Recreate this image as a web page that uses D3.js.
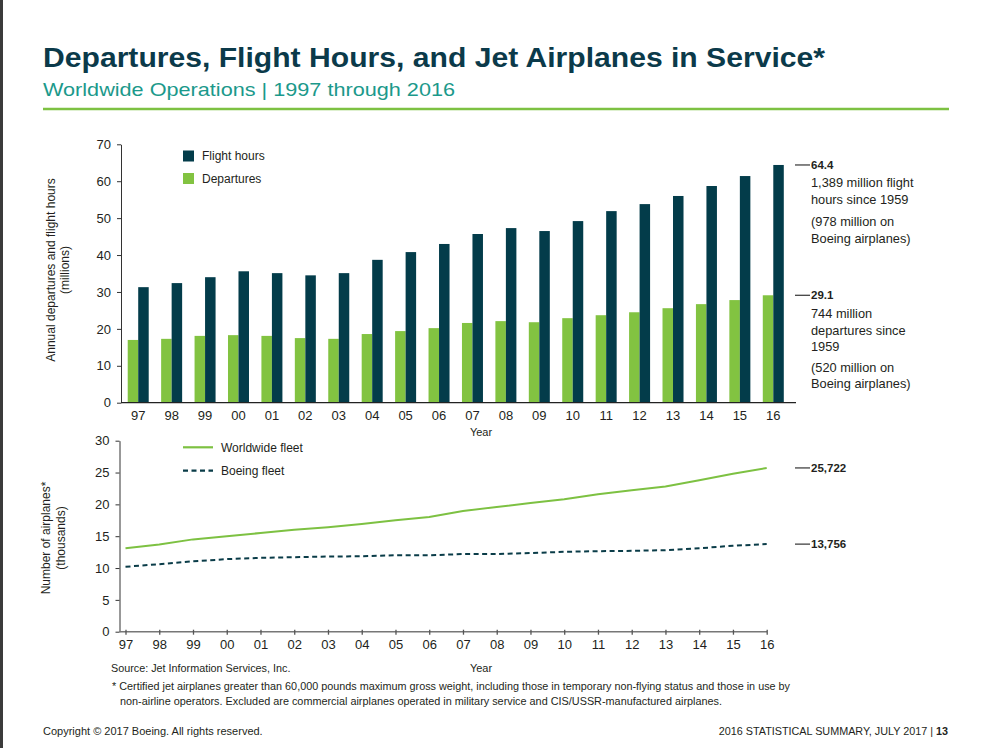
<!DOCTYPE html>
<html><head><meta charset="utf-8">
<script src="https://cdn.jsdelivr.net/npm/d3@7"></script>
<style>
body{margin:0;background:#fff}
svg{display:block}
text{font-family:"Liberation Sans",Arial,Helvetica,sans-serif}
</style>
</head><body>
<svg id="c" width="992" height="748"></svg>
<script>
// ---------- DATA ----------
const years = ["97","98","99","00","01","02","03","04","05","06","07","08","09","10","11","12","13","14","15","16"];
const flightHours = [31.3,32.4,34.0,35.6,35.1,34.5,35.1,38.7,40.8,43.0,45.7,47.3,46.5,49.2,51.9,53.8,56.0,58.7,61.4,64.4];
const departures  = [17.0,17.3,18.1,18.3,18.1,17.5,17.3,18.6,19.4,20.2,21.6,22.1,21.8,22.9,23.7,24.5,25.6,26.7,27.8,29.1];
const worldwideFleet = [13.1,13.7,14.5,15.0,15.5,16.0,16.4,16.9,17.5,18.0,18.95,19.6,20.2,20.8,21.6,22.2,22.8,23.8,24.8,25.722];
const boeingFleet    = [10.2,10.6,11.05,11.4,11.6,11.7,11.8,11.85,12.0,12.0,12.2,12.2,12.35,12.55,12.65,12.7,12.8,13.1,13.5,13.756];
const topTicks = [0,10,20,30,40,50,60,70];
const bottomTicks = [0,5,10,15,20,25,30];
const barSeries = ["Departures","Flight hours"];
const lineSeries = ["Worldwide fleet","Boeing fleet"];
const fhNote = ["1,389 million flight","hours since 1959","","(978 million on","Boeing airplanes)"];
const depNote = ["744 million","departures since","1959","(520 million on","Boeing airplanes)"];
const titleText = "Departures, Flight Hours, and Jet Airplanes in Service*";
const subtitleText = "Worldwide Operations | 1997 through 2016";

// ---------- STYLE ----------
const DARK = "#033c4a", GREEN = "#82c341", TXT = "#231f20";
const svg = d3.select("#c");
svg.append("rect").attr("width",992).attr("height",748).attr("fill","#fff");
svg.append("rect").attr("x",0).attr("y",0).attr("width",3).attr("height",748).attr("fill","#3b3b3b");

// title
svg.append("text").attr("x",43).attr("y",67).attr("font-size",27.5).attr("font-weight","bold")
  .attr("textLength",782).attr("lengthAdjust","spacingAndGlyphs")
  .attr("fill","#0b3a4a").text(titleText);
svg.append("text").attr("x",43).attr("y",96).attr("font-size",19).attr("fill","#1b998b")
  .attr("textLength",412).attr("lengthAdjust","spacingAndGlyphs").text(subtitleText);
svg.append("line").attr("x1",43).attr("x2",949).attr("y1",109).attr("y2",109)
  .attr("stroke","#7dc142").attr("stroke-width",2.5);

// ---------- TOP CHART ----------
const xTop = d3.scaleBand().domain(years).range([121.5,790]);
const bw = xTop.bandwidth();
const xSub = d3.scaleBand().domain(barSeries).range([bw/2-10.5, bw/2+10.5]);
const yTop = d3.scaleLinear().domain([0,70]).range([402.7,144.3]);
const topG = svg.append("g");

const barData = years.map((y,i)=>({year:y, vals:[{k:"Departures",v:departures[i]},{k:"Flight hours",v:flightHours[i]}]}));
const color = d3.scaleOrdinal().domain(barSeries).range([GREEN, DARK]);
topG.selectAll("g.yr").data(barData).join("g").attr("class","yr")
  .attr("transform",d=>`translate(${xTop(d.year)},0)`)
  .selectAll("rect").data(d=>d.vals).join("rect")
  .attr("x",d=>xSub(d.k)).attr("width",xSub.bandwidth())
  .attr("y",d=>yTop(d.v)).attr("height",d=>yTop(0)-yTop(d.v))
  .attr("fill",d=>color(d.k));

const yAxT = topG.append("g").attr("transform","translate(121,0)")
  .call(d3.axisLeft(yTop).tickValues(topTicks).tickSize(4).tickSizeOuter(0).tickPadding(6));
yAxT.select(".domain").attr("stroke","#333");
yAxT.selectAll(".tick line").attr("stroke","#333");
yAxT.selectAll("text").attr("font-size",13).attr("fill",TXT).style("font-family",'"Liberation Sans",Arial,sans-serif');

const xAxT = topG.append("g").attr("transform",`translate(0,${yTop(0)})`)
  .call(d3.axisBottom(xTop).tickSize(0).tickPadding(8));
xAxT.select(".domain").remove();
xAxT.selectAll("text").attr("font-size",13).attr("fill",TXT).style("font-family",'"Liberation Sans",Arial,sans-serif');
topG.append("line").attr("x1",121).attr("x2",796).attr("y1",yTop(0)).attr("y2",yTop(0))
  .attr("stroke","#222").attr("stroke-width",1.3);
topG.append("text").attr("x",481).attr("y",436).attr("text-anchor","middle").attr("font-size",11).attr("fill",TXT).text("Year");

// y label
const ylT = topG.append("text").attr("transform","translate(55,270) rotate(-90)").attr("text-anchor","middle")
  .attr("font-size",12).attr("fill",TXT);
ylT.append("tspan").attr("x",0).attr("dy",0).text("Annual departures and flight hours");
ylT.append("tspan").attr("x",0).attr("dy",13.5).text("(millions)");

// legend
barSeries.slice().reverse().forEach((k,i)=>{
  const ly = 156 + i*22.5;
  topG.append("rect").attr("x",183).attr("y",ly-5.5).attr("width",11).attr("height",11).attr("fill",color(k));
  topG.append("text").attr("x",202).attr("y",ly).attr("dy","0.35em").attr("font-size",12).attr("fill",TXT).text(k);
});

// right annotations
function annot(g, yv, label, notes, gaps){
  g.append("line").attr("x1",795).attr("x2",810).attr("y1",yv).attr("y2",yv).attr("stroke","#333").attr("stroke-width",1.2);
  g.append("text").attr("x",811).attr("y",yv).attr("dy","0.35em").attr("font-size",11.5).attr("font-weight","bold").attr("fill",TXT).text(label);
  if(notes){
    let cy = yv + 18;
    notes.forEach((t,i)=>{
      if(t===""){ return; }
      g.append("text").attr("x",811).attr("y",cy).attr("dy","0.35em").attr("font-size",12.8).attr("fill",TXT).text(t);
      cy += gaps[i];
    });
  }
}
annot(topG, yTop(flightHours[19]), d3.format(".1f")(flightHours[19]), fhNote, [17,22,0,17,17]);
annot(topG, yTop(departures[19]), d3.format(".1f")(departures[19]), depNote, [17,16,21,16,16]);

// ---------- BOTTOM CHART ----------
const xBot = d3.scalePoint().domain(years).range([125.5,766.7]);
const yBot = d3.scaleLinear().domain([0,30]).range([631.7,440.7]);
const bot = svg.append("g");

const yAxB = bot.append("g").attr("transform","translate(119.5,0)")
  .call(d3.axisLeft(yBot).tickValues(bottomTicks).tickSize(4).tickSizeOuter(0).tickPadding(6));
yAxB.select(".domain").attr("stroke","#333");
yAxB.selectAll(".tick line").attr("stroke","#333");
yAxB.selectAll("text").attr("font-size",13).attr("fill",TXT).style("font-family",'"Liberation Sans",Arial,sans-serif');

bot.append("line").attr("x1",119.5).attr("x2",767).attr("y1",yBot(0)).attr("y2",yBot(0))
  .attr("stroke","#777").attr("stroke-width",1.6);
const xAxB = bot.append("g").attr("transform",`translate(0,${yBot(0)})`)
  .call(d3.axisBottom(xBot).tickSize(3).tickPadding(5));
xAxB.select(".domain").remove();
xAxB.selectAll(".tick line").attr("y1",-2).attr("stroke","#555").attr("stroke-width",1.3);
xAxB.selectAll("text").attr("font-size",13).attr("fill",TXT).style("font-family",'"Liberation Sans",Arial,sans-serif');

const line = d3.line().x((d,i)=>xBot(years[i])).y(d=>yBot(d));
bot.append("path").attr("d",line(worldwideFleet)).attr("fill","none").attr("stroke","#7dc142").attr("stroke-width",2);
bot.append("path").attr("d",line(boeingFleet)).attr("fill","none").attr("stroke","#0a3c48").attr("stroke-width",2)
  .attr("stroke-dasharray","5,3.5");

const ylB = bot.append("text").attr("transform","translate(50,538) rotate(-90)").attr("text-anchor","middle")
  .attr("font-size",12).attr("fill",TXT);
ylB.append("tspan").attr("x",0).attr("dy",0).text("Number of airplanes*");
ylB.append("tspan").attr("x",0).attr("dy",14.5).text("(thousands)");

lineSeries.forEach((k,i)=>{
  const ly = 447.3 + i*23.4;
  bot.append("line").attr("x1",183).attr("x2",213).attr("y1",ly).attr("y2",ly)
    .attr("stroke", i===0 ? "#7dc142" : "#0a3c48").attr("stroke-width",2.2)
    .attr("stroke-dasharray", i===0 ? null : "5,3.5");
  bot.append("text").attr("x",221).attr("y",ly).attr("dy","0.35em").attr("font-size",12).attr("fill",TXT).text(k);
});
const fmtK = v => d3.format(",")(Math.round(v*1000));
annot(bot, yBot(worldwideFleet[19]), fmtK(worldwideFleet[19]), null);
annot(bot, yBot(boeingFleet[19]), fmtK(boeingFleet[19]), null);

// ---------- FOOTER ----------
const foot = svg.append("g").attr("fill",TXT);
foot.append("text").attr("x",111).attr("y",672).attr("font-size",10.8).text("Source: Jet Information Services, Inc.");
foot.append("text").attr("x",481).attr("y",672).attr("text-anchor","middle").attr("font-size",11).text("Year");
foot.append("text").attr("x",112).attr("y",690).attr("font-size",10.5).attr("textLength",678).attr("lengthAdjust","spacingAndGlyphs")
  .text("* Certified jet airplanes greater than 60,000 pounds maximum gross weight, including those in temporary non-flying status and those in use by");
foot.append("text").attr("x",120).attr("y",705).attr("font-size",10.5).attr("textLength",602).attr("lengthAdjust","spacingAndGlyphs")
  .text("non-airline operators. Excluded are commercial airplanes operated in military service and CIS/USSR-manufactured airplanes.");
foot.append("text").attr("x",43).attr("y",735).attr("font-size",11).text("Copyright © 2017 Boeing. All rights reserved.");
const rt = foot.append("text").attr("x",948).attr("y",735).attr("text-anchor","end").attr("font-size",10.8);
rt.append("tspan").text("2016 STATISTICAL SUMMARY, JULY 2017 | ");
rt.append("tspan").attr("font-weight","bold").text("13");
</script>
</body></html>
